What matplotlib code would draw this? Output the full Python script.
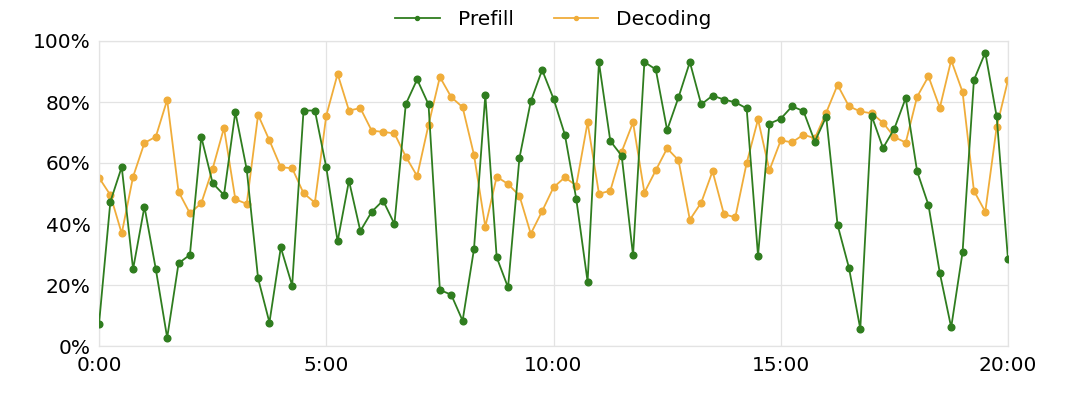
import numpy as np
import matplotlib
matplotlib.use("Agg")
import matplotlib.pyplot as plt
from matplotlib.ticker import FuncFormatter, MultipleLocator

# time in minutes, one sample every 15 s
minutes = np.arange(81) * 0.25

prefill = [7.2, 47.3, 58.7, 25.2, 45.7, 25.2, 2.7, 27.1, 29.9, 68.6,
           53.4, 49.5, 76.7, 57.9, 22.2, 7.7, 32.3, 19.8, 77.2, 77.2,
           58.6, 34.3, 54.2, 37.7, 44.0, 47.7, 40.0, 79.3, 87.4, 79.2,
           18.4, 16.8, 8.3, 31.7, 82.3, 29.1, 19.2, 61.6, 80.2, 90.5,
           81.1, 69.3, 48.3, 21.1, 93.0, 67.2, 62.4, 29.7, 93.1, 90.7,
           70.8, 81.5, 93.1, 79.2, 82.1, 80.8, 79.9, 77.9, 29.6, 72.9,
           74.5, 78.6, 77.0, 67.0, 75.2, 39.7, 25.7, 5.6, 75.5, 64.9,
           71.3, 81.3, 57.3, 46.2, 23.9, 6.1, 30.7, 87.2, 96.2, 75.3,
           28.4]

decoding = [55.2, 49.5, 36.9, 55.5, 66.6, 68.6, 80.7, 50.6, 43.5, 46.8,
            58.1, 71.5, 48.1, 46.6, 75.8, 67.4, 58.6, 58.3, 50.1, 47.0,
            75.5, 89.2, 77.2, 78.0, 70.6, 70.2, 69.7, 62.1, 55.7, 72.5,
            88.2, 81.6, 78.3, 62.7, 39.1, 55.5, 53.1, 49.3, 36.8, 44.2,
            52.0, 55.3, 52.6, 73.3, 49.9, 50.9, 63.7, 73.3, 50.3, 57.6,
            64.8, 60.9, 41.4, 47.0, 57.3, 43.2, 42.2, 60.0, 74.3, 57.6,
            67.4, 66.8, 69.3, 68.1, 76.5, 85.6, 78.6, 76.9, 76.3, 73.2,
            68.5, 66.7, 81.7, 88.4, 78.1, 93.7, 83.3, 50.9, 44.0, 71.7,
            87.2]

green = '#2f7d1f'
orange = '#f0ad3a'

fig = plt.figure(figsize=(10.8, 4.19), dpi=100)
ax = fig.add_axes([99 / 1080, 1 - 346 / 419, 909 / 1080, 305 / 419])

ax.plot(minutes, prefill, color=green, lw=1.3, marker='o', ms=4.8, label='Prefill', zorder=3)
ax.plot(minutes, decoding, color=orange, lw=1.3, marker='o', ms=4.8, label='Decoding', zorder=2)

ax.set_xlim(0, 20)
ax.set_ylim(0, 100)
ax.xaxis.set_major_locator(MultipleLocator(5))
ax.yaxis.set_major_locator(MultipleLocator(20))
ax.xaxis.set_major_formatter(FuncFormatter(lambda v, p: '%d:00' % v))
ax.yaxis.set_major_formatter(FuncFormatter(lambda v, p: '%d%%' % v))
ax.tick_params(length=0, labelsize=14.5)
ax.tick_params(axis='x', pad=7)
ax.tick_params(axis='y', pad=6)
ax.grid(True, color='#e3e3e3', lw=0.9)
ax.set_axisbelow(True)
for s in ax.spines.values():
    s.set_color('#e3e3e3')
    s.set_linewidth(0.9)

ax.legend(loc='center', bbox_to_anchor=(0.5, 1.069), ncol=2, frameon=False,
          fontsize=14.5, markerscale=0.6, handlelength=2.2, handletextpad=0.9,
          columnspacing=2.0, borderaxespad=0)

fig.savefig('out.png', dpi=100)
